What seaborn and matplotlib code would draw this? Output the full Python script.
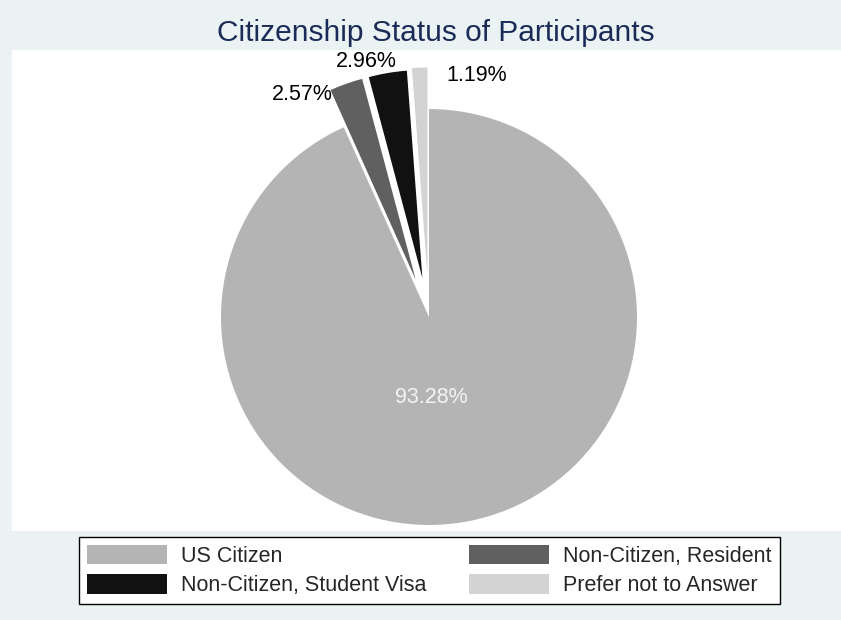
import matplotlib
matplotlib.use("Agg")
import matplotlib.pyplot as plt
import seaborn as sns

# Survey breakdown of citizenship status
categories = ["US Citizen", "Non-Citizen, Resident",
              "Non-Citizen, Student Visa", "Prefer not to Answer"]
shares = [93.28, 2.57, 2.96, 1.19]
slice_colors = ["#b4b4b4", "#606060", "#111111", "#d3d3d3"]
explode = [0, 0.19, 0.19, 0.2]
title = "Citizenship Status of Participants"

sns.set_theme(style="white")
plt.rcParams["font.family"] = ["Liberation Sans", "DejaVu Sans"]

W, H = 841, 620
fig = plt.figure(figsize=(W / 100, H / 100), dpi=100, facecolor="#eaf2f3")

# white plot region
ax = fig.add_axes([12 / W, (H - 531) / H, (W - 12) / W, (531 - 50) / H])

wedges, texts, autotexts = ax.pie(
    shares, colors=slice_colors, explode=explode, startangle=90,
    counterclock=False, autopct="%.2f%%", radius=1,
    wedgeprops=dict(linewidth=0),
    textprops=dict(fontsize=15.5, color="black"),
)
ax.set_frame_on(True)
ax.set_facecolor("white")
for s in ax.spines.values():
    s.set_visible(False)
ax.set_aspect("auto")
ax.set_xlim(-2.005, 1.981)
ax.set_ylim(-1.029, 1.284)
ax.set_xticks([])
ax.set_yticks([])

# percentage labels
label_spots = [((0.01, -0.385), "center", "#f4f4f4"),
               ((-0.462, 1.072), "right", "black"),
               ((-0.300, 1.228), "center", "black"),
               ((0.082, 1.160), "left", "black")]
for t, (pos, ha, col) in zip(autotexts, label_spots):
    t.set_position(pos)
    t.set_ha(ha)
    t.set_va("center")
    t.set_color(col)

fig.text(436 / W, 1 - 33 / H, title, ha="center", va="center",
         fontsize=21.5, color="#1b2b57")

order = [0, 2, 1, 3]
leg = fig.legend([wedges[i] for i in order], [categories[i] for i in order],
                 ncol=2, loc="center",
                 bbox_to_anchor=(429.5 / W, 1 - 570.5 / H),
                 frameon=True, fancybox=False, framealpha=1,
                 facecolor="white", edgecolor="black",
                 handlelength=3.7, handleheight=1.0, handletextpad=0.65,
                 columnspacing=2.0, labelspacing=0.35, borderpad=0.38,
                 fontsize=15.5)
leg.get_frame().set_linewidth(1.0)

fig.savefig("out.png", dpi=100, facecolor=fig.get_facecolor())
